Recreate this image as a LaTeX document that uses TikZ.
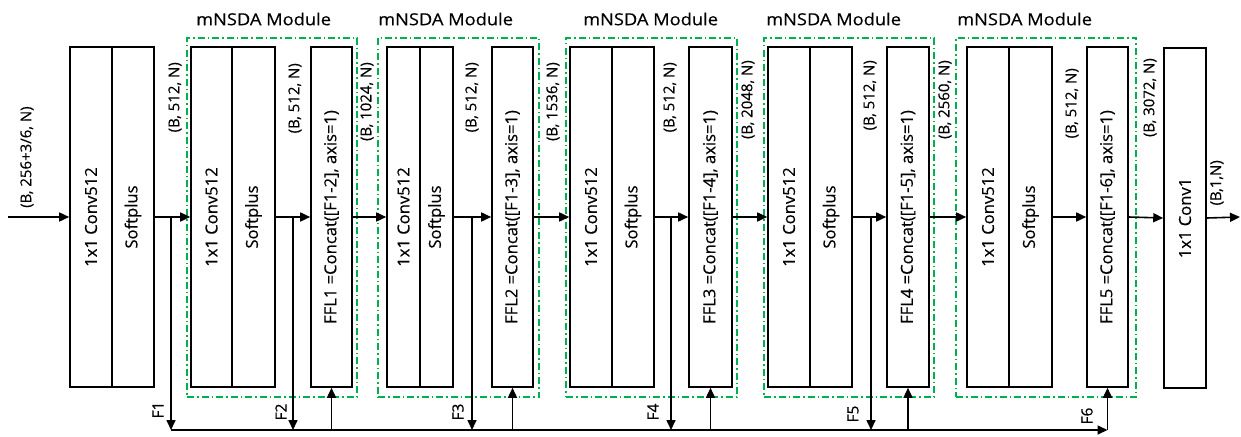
\documentclass[tikz,border=0pt]{standalone}
\usepackage{fontspec}
\setmainfont{Open Sans}[FakeBold=0.35]
\usetikzlibrary{arrows.meta}
\definecolor{mgreen}{RGB}{0,176,80}
\newcommand{\wide}[1]{\scalebox{1.1}[1]{#1}}
\begin{document}
\begin{tikzpicture}[x=1pt,y=-1pt,
  blk/.style={draw, line width=1.6pt, minimum height=340pt, inner sep=0pt, font=\fontsize{16.6}{19}\selectfont},
  modbox/.style={draw=mgreen, line width=1.3pt, dash pattern=on 7pt off 3pt on 1.5pt off 3pt, inner sep=0pt, minimum height=359pt},
  conn/.style={line width=1.6pt, -{Triangle[length=10pt,width=9pt]}},
  dimlbl/.style={rotate=90, anchor=east, inner sep=0pt, font=\fontsize{15}{17}\selectfont},
  flbl/.style={rotate=90, inner sep=0pt, font=\fontsize{15.5}{17}\selectfont},
  ttl/.style={anchor=west, inner sep=0pt, font=\fontsize{16.6}{20}\selectfont}
]
\useasboundingbox (0,0) rectangle (1241,436);

% module frames
\node[modbox, minimum width=170pt] (m1) at (272,217.5) {};
\node[modbox, minimum width=161pt] (m2) at (458.5,217.5) {};
\node[modbox, minimum width=171pt] (m3) at (651.5,217.5) {};
\node[modbox, minimum width=170pt] (m4) at (849,217.5) {};
\node[modbox, minimum width=180pt] (m5) at (1046,217.5) {};

% titles
\node[ttl] (t1) at (196,19) {\wide{mNSDA Module}};
\node[ttl] (t2) at (378,19) {\wide{mNSDA Module}};
\node[ttl] (t3) at (583,19) {\wide{mNSDA Module}};
\node[ttl] (t4) at (766,19) {\wide{mNSDA Module}};
\node[ttl] (t5) at (957,19) {\wide{mNSDA Module}};

% blocks
\node[blk, minimum width=42pt] (c0) at (91,217) {\rotatebox{90}{1x1 Conv512}};
\node[blk, minimum width=42pt] (s0) at (133,217) {\rotatebox{90}{Softplus}};

\node[blk, minimum width=41pt] (c1) at (211.5,217) {\rotatebox{90}{1x1 Conv512}};
\node[blk, minimum width=43pt] (s1) at (253.5,217) {\rotatebox{90}{Softplus}};
\node[blk, minimum width=41pt] (f1) at (331.5,217) {\rotatebox{90}{FFL1 =Concat([F1-2], axis=1)}};

\node[blk, minimum width=33pt] (c2) at (403.5,217) {\rotatebox{90}{1x1 Conv512}};
\node[blk, minimum width=33pt] (s2) at (436.5,217) {\rotatebox{90}{Softplus}};
\node[blk, minimum width=41pt] (f2) at (512.5,217) {\rotatebox{90}{FFL2 =Concat([F1-3], axis=1)}};

\node[blk, minimum width=42pt] (c3) at (591,217) {\rotatebox{90}{1x1 Conv512}};
\node[blk, minimum width=42pt] (s3) at (633,217) {\rotatebox{90}{Softplus}};
\node[blk, minimum width=43pt] (f3) at (710.5,217) {\rotatebox{90}{FFL3 =Concat([F1-4], axis=1)}};

\node[blk, minimum width=42pt] (c4) at (789,217) {\rotatebox{90}{1x1 Conv512}};
\node[blk, minimum width=42pt] (s4) at (831,217) {\rotatebox{90}{Softplus}};
\node[blk, minimum width=42pt] (f4) at (908,217) {\rotatebox{90}{FFL4 =Concat([F1-5], axis=1)}};

\node[blk, minimum width=42pt] (c5) at (988,217) {\rotatebox{90}{1x1 Conv512}};
\node[blk, minimum width=43pt] (s5) at (1030.5,217) {\rotatebox{90}{Softplus}};
\node[blk, minimum width=41pt] (f5) at (1107.5,217) {\rotatebox{90}{FFL5 =Concat([F1-6], axis=1)}};

\node[blk, minimum width=42pt] (k) at (1185,218) {\rotatebox{90}{1x1 Conv1}};

% dimension labels
\node[dimlbl, anchor=west] (l0) at (27,208) {(B, 256+3/6, N)};
\node[dimlbl] (l1) at (175,62) {(B, 512, N)};
\node[dimlbl] (l2) at (295,63) {(B, 512, N)};
\node[dimlbl] (l3) at (367,62) {(B, 1024, N)};
\node[dimlbl] (l4) at (472,62) {(B, 512, N)};
\node[dimlbl] (l5) at (553,62) {(B, 1536, N)};
\node[dimlbl] (l6) at (670,62) {(B, 512, N)};
\node[dimlbl] (l7) at (748,60) {(B, 2048, N)};
\node[dimlbl] (l8) at (870,60) {(B, 512, N)};
\node[dimlbl] (l9) at (945,60) {(B, 2560, N)};
\node[dimlbl] (l10) at (1072,68) {(B, 512, N)};
\node[dimlbl] (l11) at (1150,58) {(B, 3072, N)};
\node[dimlbl] (l12) at (1217,160) {(B,1,N)};

% junctions
\coordinate (in) at (8,217);
\coordinate (out) at (1240,217);
\coordinate (j1) at (171,217);
\coordinate (j2) at (293,217);
\coordinate (j3) at (472,217);
\coordinate (j4) at (671,217);
\coordinate (j5) at (871,217);
\coordinate (b1) at (171,430);
\coordinate (b2) at (293,430);
\coordinate (b3) at (472,430);
\coordinate (b4) at (671,430);
\coordinate (b5) at (871,430);
\coordinate (corner) at (f5.south |- b1);

% main flow
\draw[conn] (in) -- (c0.west);
\draw[conn] (s0.east) -- (c1.west);
\draw[conn] (s1.east) -- (f1.west);
\draw[conn] (f1.east) -- (c2.west);
\draw[conn] (s2.east) -- (f2.west);
\draw[conn] (f2.east) -- (c3.west);
\draw[conn] (s3.east) -- (f3.west);
\draw[conn] (f3.east) -- (c4.west);
\draw[conn] (s4.east) -- (f4.west);
\draw[conn] (f4.east) -- (c5.west);
\draw[conn] (s5.east) -- (f5.west);
\draw[conn] (f5.east) -- (k.west);
\draw[conn] (k.east) -- (out);

% skip taps
\draw[conn] (j1) -- (b1);
\draw[conn] (j2) -- (b2);
\draw[conn] (j3) -- (b3);
\draw[conn] (j4) -- (b4);
\draw[conn] (j5) -- (b5);
\draw[conn] (b1) -- (corner);
\draw[conn] (f1.south |- b1) -- (f1.south);
\draw[conn] (f2.south |- b1) -- (f2.south);
\draw[conn] (f3.south |- b1) -- (f3.south);
\draw[conn] (f4.south |- b1) -- (f4.south);
\draw[conn] (corner) -- (f5.south);

% F labels
\node[flbl] (F1) at (158,410) {F1};
\node[flbl] (F2) at (281,412) {F2};
\node[flbl] (F3) at (458,412) {F3};
\node[flbl] (F4) at (653,412) {F4};
\node[flbl] (F5) at (853,414) {F5};
\node[flbl] (F6) at (1087,416) {F6};
\end{tikzpicture}
\end{document}
